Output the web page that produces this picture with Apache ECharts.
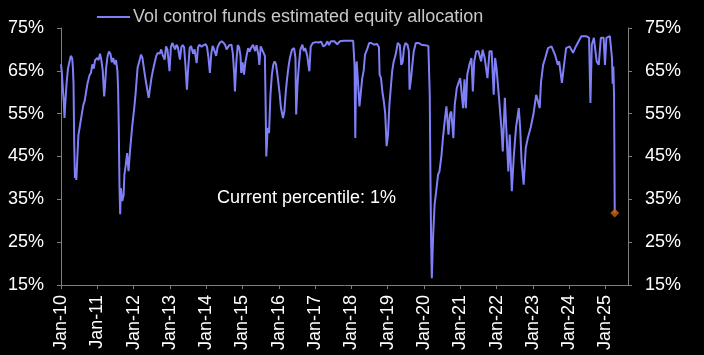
<!DOCTYPE html>
<html>
<head>
<meta charset="utf-8">
<script src="https://cdn.jsdelivr.net/npm/echarts@6/dist/echarts.min.js"></script>
<style>
html,body{margin:0;padding:0;background:#000;}
#chart{width:704px;height:355px;}
</style>
</head>
<body>
<div id="chart"></div>
<script>
// ---- data ----
const seriesName = 'Vol control funds estimated equity allocation';
const dates = [
'2010-01-01','2010-01-08','2010-01-22','2010-01-29','2010-02-05','2010-02-12','2010-02-26','2010-03-12','2010-03-26','2010-04-09','2010-04-23','2010-04-30',
'2010-05-07','2010-05-14','2010-05-21','2010-05-28','2010-06-04','2010-06-11','2010-06-25','2010-07-09','2010-07-23','2010-08-13','2010-08-27','2010-09-10',
'2010-09-24','2010-10-15','2010-10-29','2010-11-12','2010-11-26','2010-12-10','2010-12-31',
'2011-01-14','2011-01-28','2011-02-11','2011-02-25','2011-03-11','2011-03-18','2011-04-01','2011-04-15','2011-04-29','2011-05-13','2011-05-27','2011-06-10',
'2011-06-24','2011-07-08','2011-07-22','2011-07-29','2011-08-05','2011-08-12','2011-08-19','2011-08-26','2011-09-09','2011-09-23','2011-09-30','2011-10-14',
'2011-10-28','2011-11-11','2011-11-25','2011-12-16',
'2012-01-06','2012-01-20','2012-02-10','2012-03-02','2012-03-16','2012-03-30','2012-04-13','2012-05-04','2012-06-01','2012-06-15','2012-06-29','2012-07-13',
'2012-08-03','2012-08-17','2012-08-31','2012-09-21','2012-10-05','2012-10-19','2012-11-09','2012-11-23','2012-12-07','2012-12-28',
'2013-01-11','2013-01-25','2013-02-08','2013-02-22','2013-03-08','2013-03-22','2013-04-12','2013-04-26','2013-05-10','2013-05-24','2013-06-07','2013-06-21',
'2013-07-05','2013-07-19','2013-08-02','2013-08-23','2013-09-06','2013-09-27','2013-10-11','2013-10-25','2013-11-15','2013-12-06','2013-12-27',
'2014-01-10','2014-01-24','2014-02-07','2014-02-21','2014-03-07','2014-03-21','2014-04-11','2014-04-25','2014-05-16','2014-06-06','2014-06-27','2014-07-11',
'2014-07-25','2014-08-08','2014-08-22','2014-09-12','2014-09-26','2014-10-10','2014-10-17','2014-10-31','2014-11-14','2014-11-28','2014-12-12','2014-12-19',
'2015-01-02','2015-01-16','2015-01-30','2015-02-13','2015-02-27','2015-03-13','2015-03-27','2015-04-17','2015-05-08','2015-05-22','2015-06-12','2015-06-19',
'2015-07-03','2015-07-24','2015-08-14','2015-08-21','2015-08-28','2015-09-04','2015-09-11','2015-09-25','2015-10-09','2015-10-23','2015-11-06','2015-11-20',
'2015-12-04','2015-12-18',
'2016-01-08','2016-01-22','2016-02-12','2016-02-26','2016-03-11','2016-03-25','2016-04-08','2016-04-22','2016-05-13','2016-06-03','2016-06-17','2016-06-24',
'2016-07-08','2016-07-22','2016-08-05','2016-08-26','2016-09-09','2016-09-23','2016-10-14','2016-10-28','2016-11-04','2016-11-18','2016-12-09',
'2017-01-06','2017-02-03','2017-03-03','2017-03-24','2017-04-14','2017-05-05','2017-05-19','2017-06-09','2017-07-14','2017-08-11','2017-08-18','2017-09-08',
'2017-10-13','2017-11-17','2017-12-15',
'2018-01-19','2018-01-26','2018-02-02','2018-02-09','2018-02-16','2018-02-23','2018-03-09','2018-03-23','2018-04-06','2018-04-20','2018-05-04','2018-05-18',
'2018-06-08','2018-06-29','2018-07-20','2018-08-17','2018-09-14','2018-10-05','2018-10-12','2018-10-26','2018-11-09','2018-11-23','2018-12-07','2018-12-21',
'2019-01-04','2019-01-18','2019-02-01','2019-02-15','2019-03-01','2019-03-22','2019-04-12','2019-05-03','2019-05-17','2019-05-31','2019-06-14','2019-06-28',
'2019-07-19','2019-08-02','2019-08-09','2019-08-23','2019-09-06','2019-09-20','2019-10-11','2019-11-08','2019-12-06',
'2020-01-10','2020-02-14','2020-02-21','2020-02-28','2020-03-06','2020-03-13','2020-03-20','2020-03-27','2020-04-03','2020-04-17','2020-05-01','2020-05-22',
'2020-06-05','2020-06-26','2020-07-10','2020-07-31','2020-08-14','2020-09-04','2020-09-18','2020-10-02','2020-10-23','2020-11-06','2020-11-27','2020-12-11','2020-12-31',
'2021-01-29','2021-02-12','2021-02-26','2021-03-12','2021-04-02','2021-04-23','2021-05-07','2021-05-21','2021-06-11','2021-07-02','2021-07-30','2021-08-13','2021-09-03',
'2021-10-01','2021-10-22','2021-11-12','2021-12-03','2021-12-17','2021-12-31',
'2022-01-28','2022-02-18','2022-03-04','2022-03-25','2022-04-08','2022-04-29','2022-05-13','2022-06-03','2022-06-24','2022-07-15','2022-08-12','2022-08-26',
'2022-09-09','2022-09-30','2022-10-21','2022-11-11','2022-12-09',
'2023-01-06','2023-02-03','2023-03-10','2023-03-24','2023-04-14','2023-05-05','2023-06-02','2023-07-07','2023-08-11','2023-09-08','2023-09-22','2023-10-20',
'2023-11-10','2023-12-01',
'2024-01-05','2024-02-09','2024-03-08','2024-04-05','2024-05-03','2024-06-21','2024-07-19','2024-08-02','2024-08-16','2024-09-06','2024-10-04','2024-10-25',
'2024-11-15','2024-12-13','2024-12-27',
'2025-01-10','2025-02-14','2025-03-07','2025-03-14','2025-03-21','2025-03-28','2025-04-04'
];
const allocation = [
66.5,65,60,58,54,57,62,65.5,67,68.5,68,66,
62,48,40,42,39.5,43,50,52,54,57,58,60,
62,64,64.5,66.5,65.5,67.5,68,
67.5,69,67.5,65,59,61,66,68.5,69.5,69,67,68,
66.5,67.5,65,61,52,38,31.5,37.6,34.6,36,40.7,43,
45.8,41.6,46,51.6,
56,59.4,65.7,67.5,68.8,68,65.7,62.5,58.7,61,63.3,65,
67.2,68.5,69.2,69,70,68.8,67.6,70.7,70,64.9,
70.5,71.5,71.2,70,71.1,70.5,67.6,70.5,71,70.5,66,60.6,
66,70.3,70.8,69,70,66.8,70.5,71.1,70.6,71,71.2,
70.5,68,64.5,69,70.8,70,68.5,70.5,71.5,71.9,71.5,71,
70,69.9,71,71.1,69,64,60.2,67,71,70.5,68.5,64.5,
67,64.1,67,68.8,70.3,69.5,70.3,71.1,69.6,71,68.5,66.4,
70.7,69.6,68.5,58,45,48,51.7,50.5,59.4,64,66.4,67.2,
66.5,64.1,
60,56.5,54,55.5,60,63.3,66,68,69.9,70.3,68,54.8,
62,66.4,69.9,71.1,69.6,70.3,68.5,66,64.9,70.7,71.5,
71.7,71.6,71.8,70.7,71,71.9,71,71.9,71.9,71.2,71,71.9,
72,72,72,
72,71.9,66,49.3,62,67.2,62,56.7,60,63.3,65,68.8,
70,71.5,71.5,71.1,71.3,70.5,64.1,63.3,60,57.9,55,47.4,
50,57,61,64.9,67,68.8,71.5,71,66.4,67,70.3,71.5,
71.1,69.6,60.6,63,66.4,69.6,71.5,71.5,71.1,
71,70.8,71,59.4,40,25,16.6,22,27,33.8,36.5,40.8,
41.5,45.4,49.3,54,56.7,50.1,54.8,55.5,49.3,57.1,61,62,63.3,
56.3,63,56.3,64.1,66.4,68,60.2,67.2,69.6,69.6,67.2,69.9,68,
63.3,69.6,69.6,59.4,68,65.7,
57.9,51.7,46.2,58.7,51.7,41.5,50.1,36.9,45.4,51.7,56.3,51.7,
43.9,38.4,47,49.3,51.7,
54.8,59.4,56.3,62.5,66.4,68,70.3,70.7,68.8,66.4,67.2,62.2,
66.4,70.3,
70.7,69.2,70.7,71.9,73.1,73.1,72.7,57.5,71.1,72.7,67.2,66.4,
72.7,72.7,66.4,
72.7,73.1,68,62,66,59.4,31.8
];
const yTicks = [15, 25, 35, 45, 55, 65, 75];
const xTickYears = [2010,2011,2012,2013,2014,2015,2016,2017,2018,2019,2020,2021,2022,2023,2024,2025];
const annotation = 'Current percentile: 1%';
const xMaxYear = 2025.62;

// ---- helpers ----
function toYear(s) {
  const p = s.split('-').map(Number);
  const t = Date.UTC(p[0], p[1]-1, p[2]);
  const a = Date.UTC(p[0], 0, 1), b = Date.UTC(p[0]+1, 0, 1);
  return p[0] + (t - a) / (b - a);
}
const n = Math.min(dates.length, allocation.length);
const lineData = [];
for (let i = 0; i < n; i++) lineData.push([toYear(dates[i]), allocation[i]]);
const lastPoint = lineData[lineData.length - 1];

const FONT = '"Liberation Sans", Arial, sans-serif';
const axisGray = '#7f7f7f';

const chart = echarts.init(document.getElementById('chart'), null, {renderer: 'canvas'});
chart.setOption({
  backgroundColor: '#000000',
  animation: false,
  textStyle: {fontFamily: FONT},
  grid: {left: 61, right: 76, top: 28, bottom: 70, containLabel: false},
  legend: {
    data: [seriesName],
    left: 97, top: 8, padding: 0,
    icon: 'rect', itemWidth: 33, itemHeight: 2, itemGap: 4,
    textStyle: {color: '#c8c8c8', fontSize: 18, fontFamily: FONT, padding: [0, 0, 0, -2]}
  },
  xAxis: {
    type: 'value',
    min: xTickYears[0], max: xMaxYear, interval: 1,
    axisLine: {show: true, lineStyle: {color: axisGray, width: 1}},
    axisTick: {show: true, length: 4, lineStyle: {color: axisGray}},
    splitLine: {show: false},
    axisLabel: {
      rotate: 90, margin: 10, color: '#ffffff', fontSize: 18, fontFamily: FONT,
      showMaxLabel: false,
      formatter: v => xTickYears.includes(v) ? 'Jan-' + String(v).slice(2) : ''
    }
  },
  yAxis: [0, 1].map(i => ({
    type: 'value', position: i === 0 ? 'left' : 'right',
    min: yTicks[0], max: yTicks[yTicks.length-1], interval: 10,
    axisLine: {show: true, lineStyle: {color: axisGray, width: 1}},
    axisTick: {show: true, length: 4, lineStyle: {color: axisGray}},
    splitLine: {show: false},
    axisLabel: {color: '#ffffff', fontSize: 18, fontFamily: FONT, margin: 17, formatter: '{value}%'}
  })),
  series: [
    {
      name: seriesName, type: 'line', data: lineData,
      showSymbol: false, symbol: 'none',
      lineStyle: {color: '#7f7ff7', width: 2},
      itemStyle: {color: '#7f7ff7'}
    },
    {
      name: 'current', type: 'scatter', data: [lastPoint],
      symbol: 'diamond', symbolSize: 9,
      itemStyle: {color: '#c5650f'}, z: 5
    }
  ],
  graphic: [{
    type: 'text', left: 217, top: 189,
    style: {text: annotation, fill: '#ffffff', font: '18px ' + FONT}
  }]
});
</script>
</body>
</html>
